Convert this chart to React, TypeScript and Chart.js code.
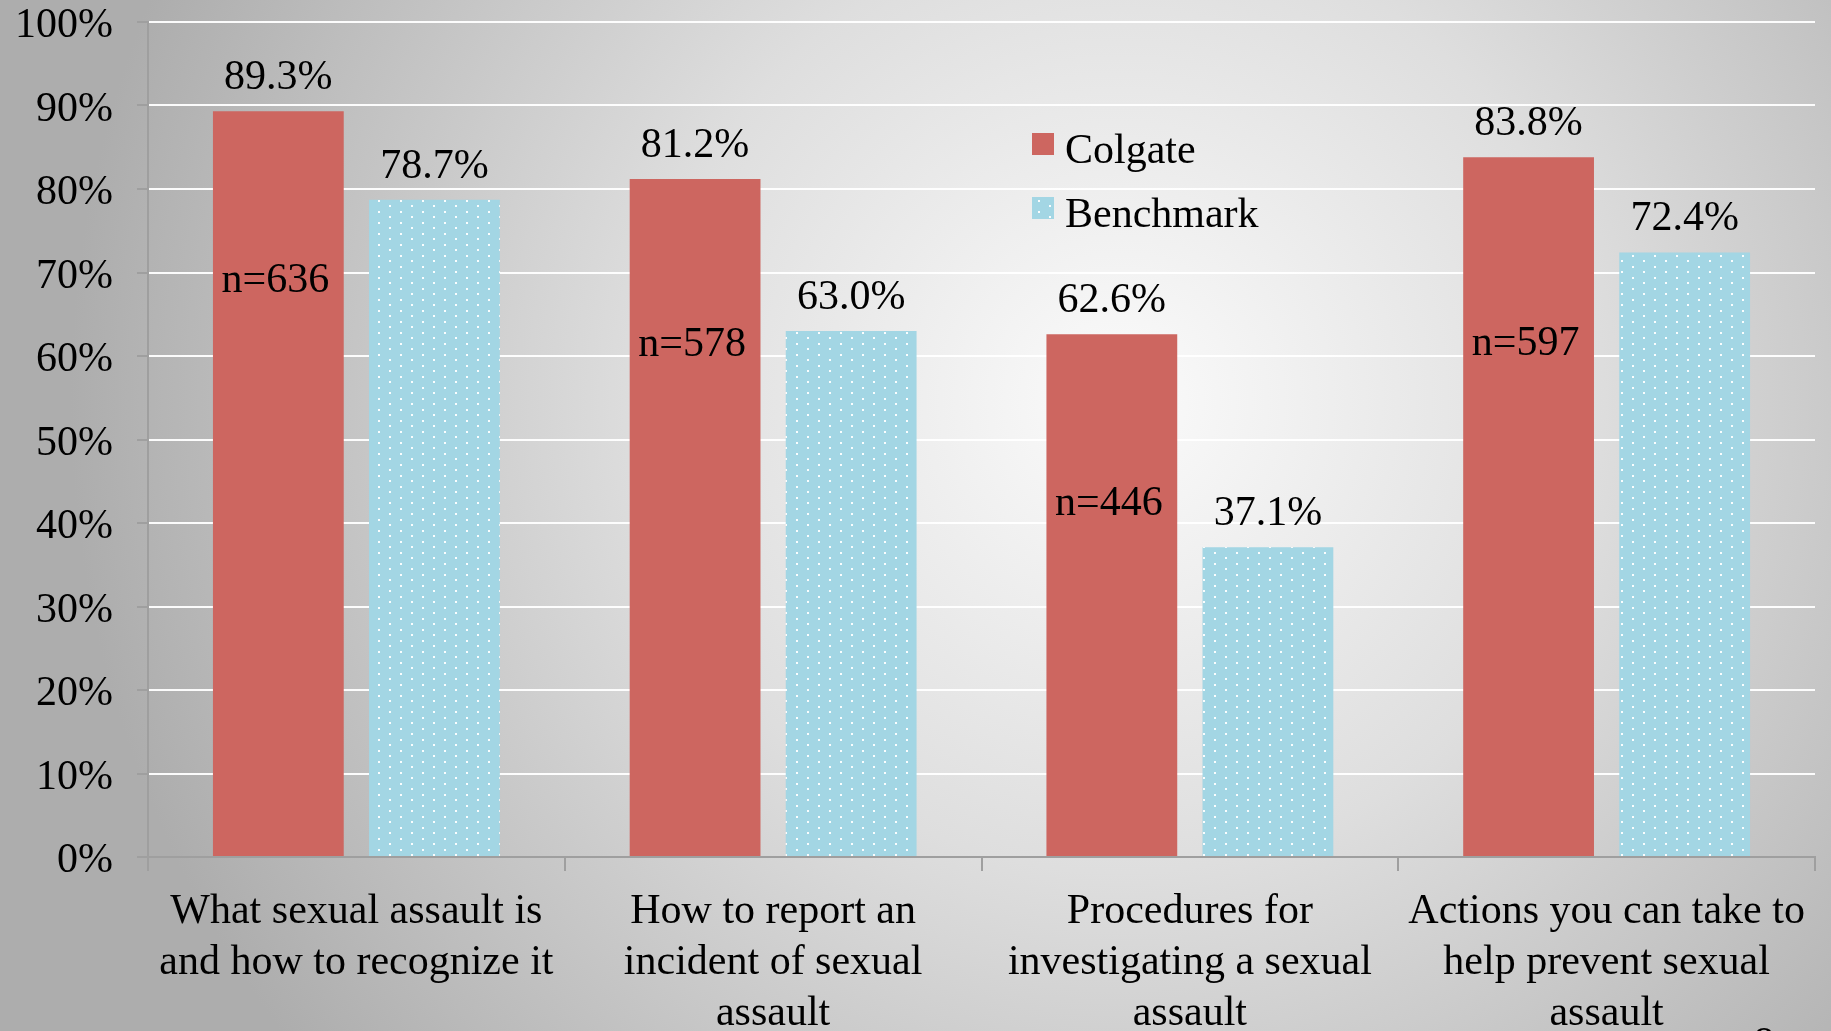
import React, { useEffect, useRef } from "react";
import { Chart, registerables } from "chart.js";

Chart.register(...registerables);

// ---- data ----
const categories: string[][] = [
  ["What sexual assault is", "and how to recognize it"],
  ["How to report an", "incident of sexual", "assault"],
  ["Procedures for", "investigating a sexual", "assault"],
  ["Actions you can take to", "help prevent sexual", "assault"],
];
const seriesNames = ["Colgate", "Benchmark"];
const colgateValues = [89.3, 81.2, 62.6, 83.8];
const benchmarkValues = [78.7, 63.0, 37.1, 72.4];
const sampleSizes = ["n=636", "n=578", "n=446", "n=597"];
const sampleLabelAt = [69.0, 61.3, 42.3, 61.4];
const yTickValues = [0, 10, 20, 30, 40, 50, 60, 70, 80, 90, 100];
const pageNumber = "8";

// ---- styles ----
const FONT = '"Liberation Serif", "Times New Roman", serif';
const RED = "#CD6660";
const BLUE = "#A3D6E4";
const AXIS = "#9f9f9f";
const W = 1831;
const H = 1031;

function makeDots(): CanvasPattern | string {
  const c = document.createElement("canvas");
  c.width = 22;
  c.height = 11;
  const x = c.getContext("2d");
  if (!x) return BLUE;
  x.fillStyle = BLUE;
  x.fillRect(0, 0, 22, 11);
  x.fillStyle = "rgba(255,255,255,0.95)";
  x.fillRect(4, 2, 2, 2);
  x.fillRect(15, 7, 2, 2);
  return x.createPattern(c, "repeat") || BLUE;
}

const backgroundPlugin = {
  id: "bgGradient",
  beforeDraw(chart: any) {
    const ctx = chart.ctx as CanvasRenderingContext2D;
    const g = ctx.createRadialGradient(1120, 400, 0, 1120, 400, 1050);
    g.addColorStop(0, "#fbfbfb");
    g.addColorStop(0.45, "#dedede");
    g.addColorStop(1, "#adadad");
    ctx.save();
    ctx.fillStyle = g;
    ctx.fillRect(0, 0, chart.width, chart.height);
    ctx.restore();
  },
};

const labelsPlugin = {
  id: "barLabels",
  afterDatasetsDraw(chart: any) {
    const ctx = chart.ctx as CanvasRenderingContext2D;
    const yScale = chart.scales.y;
    ctx.save();
    ctx.fillStyle = "#000";
    ctx.font = `42px ${FONT}`;
    ctx.textAlign = "center";
    chart.data.datasets.forEach((ds: any, di: number) => {
      const meta = chart.getDatasetMeta(di);
      meta.data.forEach((el: any, i: number) => {
        ctx.textBaseline = "alphabetic";
        ctx.fillText(Number(ds.data[i]).toFixed(1) + "%", el.x, el.y - 22);
      });
    });
    const m0 = chart.getDatasetMeta(0);
    m0.data.forEach((el: any, i: number) => {
      ctx.textBaseline = "middle";
      ctx.fillText(sampleSizes[i], el.x - 3, yScale.getPixelForValue(sampleLabelAt[i]));
    });
    ctx.restore();
  },
};

const legendPlugin = {
  id: "customLegend",
  afterDraw(chart: any) {
    const ctx = chart.ctx as CanvasRenderingContext2D;
    const area = chart.chartArea;
    const x0 = area.left + 884;
    const y0 = area.top + 111;
    ctx.save();
    ctx.font = `42px ${FONT}`;
    ctx.textAlign = "left";
    ctx.textBaseline = "alphabetic";
    chart.data.datasets.forEach((ds: any, i: number) => {
      const by = y0 + i * 64;
      ctx.fillStyle = ds.backgroundColor;
      ctx.fillRect(x0, by, 22, 22);
      ctx.fillStyle = "#000";
      ctx.fillText(ds.label, x0 + 33, by + 30);
    });
    // page number, mostly cut off at the bottom edge
    ctx.textAlign = "center";
    ctx.fillText(pageNumber, 1764, chart.height + 25);
    ctx.restore();
  },
};

export default function App() {
  const ref = useRef<HTMLCanvasElement | null>(null);

  useEffect(() => {
    if (!ref.current) return;
    const dots = makeDots();
    const chart = new Chart(ref.current, {
      type: "bar",
      data: {
        labels: categories,
        datasets: [
          {
            label: seriesNames[0],
            data: colgateValues,
            backgroundColor: RED,
            borderWidth: 0,
            categoryPercentage: 0.749,
            barPercentage: 0.838,
          },
          {
            label: seriesNames[1],
            data: benchmarkValues,
            backgroundColor: dots as any,
            borderWidth: 0,
            categoryPercentage: 0.749,
            barPercentage: 0.838,
          },
        ],
      },
      options: {
        animation: false,
        responsive: false,
        devicePixelRatio: 1,
        layout: { padding: { left: 14, right: 16, top: 0, bottom: 0 } },
        plugins: {
          legend: { display: false },
          tooltip: { enabled: false },
        },
        scales: {
          x: {
            grid: {
              display: true,
              drawOnChartArea: false,
              offset: true,
              tickLength: 14,
              color: AXIS,
              lineWidth: 2,
            },
            border: { color: AXIS, width: 2 },
            ticks: {
              color: "#000",
              font: { family: FONT, size: 42, lineHeight: 1.22 },
              padding: 15,
              maxRotation: 0,
              minRotation: 0,
              autoSkip: false,
            },
            afterFit: (s: any) => {
              s.height = 174;
            },
          },
          y: {
            min: 0,
            max: 100,
            afterBuildTicks: (s: any) => {
              s.ticks = yTickValues.map((v) => ({ value: v }));
            },
            ticks: {
              color: "#000",
              font: { family: FONT, size: 42, lineHeight: 1 },
              padding: 24,
              labelOffset: 4,
              callback: (v: any) => `${v}%`,
            },
            grid: {
              color: "rgba(255,255,255,0.95)",
              lineWidth: 2,
              tickLength: 11,
              tickColor: AXIS,
            },
            border: { color: AXIS, width: 2 },
            afterFit: (s: any) => {
              s.width = 134;
              s.paddingTop = 22;
              s.paddingBottom = 0;
            },
          },
        },
      },
      plugins: [backgroundPlugin, labelsPlugin, legendPlugin],
    });
    return () => chart.destroy();
  }, []);

  return (
    <canvas
      ref={ref}
      width={W}
      height={H}
      style={{ position: "fixed", left: 0, top: 0, width: W, height: H, display: "block" }}
    />
  );
}
